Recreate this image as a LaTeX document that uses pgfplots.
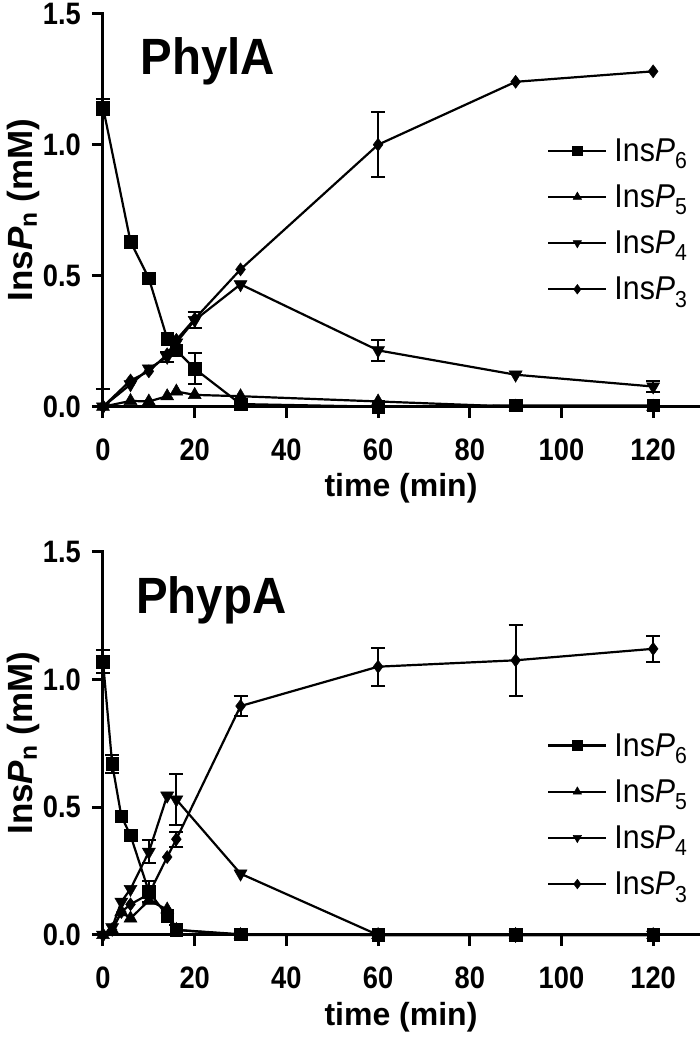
\documentclass[border=0pt]{standalone}
\usepackage{fontspec}
\setmainfont{Liberation Sans}
\newfontfamily\tickfont[FakeStretch=0.88]{Liberation Sans}
\newfontfamily\titlefont[FakeStretch=0.93]{Liberation Sans}
\newfontfamily\legfont[FakeStretch=0.92]{Liberation Sans}
\usepackage{pgfplots}
\pgfplotsset{compat=1.18}
\usepackage{pgfplotstable}

% ---------- PhylA ----------
\pgfplotstableread{
t y
0 1.143
6 0.63
10 0.49
14 0.26
16 0.215
20 0.145
30 0.01
60 0.0
90 0.005
120 0.005
}\lAsix
\pgfplotstableread{
t y
0 0
6 0.022
10 0.02
14 0.04
16 0.058
20 0.045
30 0.04
60 0.02
90 0
120 0
}\lAfive
\pgfplotstableread{
t y
0 0
6 0.085
10 0.145
14 0.19
16 0.245
20 0.33
30 0.467
60 0.215
90 0.122
120 0.077
}\lAfour
\pgfplotstableread{
t y
0 0
6 0.10
10 0.135
14 0.20
16 0.255
20 0.335
30 0.524
60 1.0
90 1.24
120 1.28
}\lAthree
\pgfplotstableread{
t y e
0 1.143 0.03
20 0.145 0.06
14 0.19 0.02
20 0.33 0.03
60 0.215 0.04
120 0.077 0.02
60 1.0 0.125
}\lAerr
\pgfplotstableread{
t y e
0 0 0.066
}\lAerrup

% ---------- PhypA ----------
\pgfplotstableread{
t y
0 1.07
2 0.67
4 0.465
6 0.39
10 0.17
14 0.075
16 0.02
30 0.003
60 0
90 0
120 0
}\pAsix
\pgfplotstableread{
t y
0 0
2 0.02
4 0.09
6 0.065
10 0.135
14 0.10
16 0.02
30 0
60 0
90 0
120 0
}\pAfive
\pgfplotstableread{
t y
0 0
2 0.03
4 0.13
6 0.18
10 0.325
14 0.545
16 0.53
30 0.24
60 0
90 0
120 0
}\pAfour
\pgfplotstableread{
t y
0 0
2 0.02
4 0.09
6 0.12
10 0.16
14 0.305
16 0.375
30 0.896
60 1.05
90 1.075
120 1.12
}\pAthree
\pgfplotstableread{
t y e
0 1.07 0.045
2 0.67 0.035
10 0.17 0.04
10 0.325 0.045
16 0.53 0.1
16 0.375 0.03
30 0.896 0.04
60 1.05 0.075
90 1.075 0.14
120 1.12 0.05
}\pAerr
\pgfplotstableread{
t y e
16 0.02 0.02
}\pAerrup

\pgfplotsset{
  panel/.style={
    scale only axis, width=596pt,
    xmin=0, xmax=130, ymin=0, ymax=1.5,
    axis x line*=bottom, axis y line*=left,
    axis line style={line width=3pt, line cap=rect},
    every tick/.style={line width=3pt, black},
    major tick length=11pt, tick align=outside,
    xtick={0,20,...,120}, ytick={0,0.5,1,1.5},
    /pgf/number format/assume math mode=true,
    ticklabel style={font=\fontsize{31}{31}\tickfont\bfseries, inner sep=0pt},
    x tick label style={anchor=north, yshift=-21pt},
    y tick label style={anchor=east, xshift=-11pt,
      /pgf/number format/fixed, /pgf/number format/fixed zerofill, /pgf/number format/precision=1},
    xlabel={time (min)},
    ylabel={Ins\textit{P}\textsubscript{n} (mM)},
    xlabel style={font=\fontsize{32}{32}\selectfont\bfseries, at={(axis description cs:0.5,0)}, anchor=center, yshift=-82pt},
    ylabel style={font=\fontsize{35}{35}\selectfont\bfseries, at={(axis description cs:-0.134,0.5)}, anchor=center},
    clip=false,
    legend style={draw=none, fill=none, anchor=north west,
      font=\fontsize{33}{33}\legfont,
      row sep=18pt, column sep=5pt},
    legend cell align=left,
    legend image code/.code={\draw[mark repeat=2,mark phase=2,##1,mark size=4.8pt] plot coordinates {(0pt,0pt) (29pt,0pt) (58pt,0pt)};},
  },
  ser/.style={black, line width=2.2pt},
  s6/.style={ser, mark=square*, mark size=6.3pt, mark options={solid, fill=black, line width=0.5pt}},
  s5/.style={ser, mark=triangle*, mark size=7.5pt, mark options={solid, fill=black, line width=0.5pt}},
  s4/.style={ser, mark=triangle*, mark size=7.5pt, mark options={solid, fill=black, line width=0.5pt, rotate=180}},
  s3/.style={ser, mark=diamond*, mark size=6.5pt, mark options={solid, fill=black, line width=0.5pt}},
  eb/.style={forget plot, only marks, mark=none, black,
    error bars/.cd, y dir=both, y explicit,
    error bar style={line width=2pt, black},
    error mark options={rotate=90, mark size=7pt, line width=2pt, black}},
  ebup/.style={forget plot, only marks, mark=none, black,
    error bars/.cd, y dir=plus, y explicit,
    error bar style={line width=2pt, black},
    error mark options={rotate=90, mark size=7pt, line width=2pt, black}},
}

\begin{document}
\begin{tikzpicture}
\useasboundingbox (0,0) rectangle (700pt,1044pt);

\begin{axis}[panel, at={(103pt,637.3pt)}, anchor=south west, height=393pt,
  legend style={at={(0.74,0.693)}}]
  \addplot[s6] table[x=t,y=y] {\lAsix};
  \addlegendentry{Ins\textit{P}\textsubscript{6}}
  \addplot[s5] table[x=t,y=y] {\lAfive};
  \addlegendentry{Ins\textit{P}\textsubscript{5}}
  \addplot[s4] table[x=t,y=y] {\lAfour};
  \addlegendentry{Ins\textit{P}\textsubscript{4}}
  \addplot[s3] table[x=t,y=y] {\lAthree};
  \addlegendentry{Ins\textit{P}\textsubscript{3}}
  \addplot[eb] table[x=t,y=y,y error=e] {\lAerr};
  \addplot[ebup] table[x=t,y=y,y error=e] {\lAerrup};
  \node[anchor=base west, font=\fontsize{51}{51}\titlefont\bfseries] at (rel axis cs:0.057,0.845) {PhylA};
\end{axis}

\begin{axis}[panel, at={(103pt,109pt)}, anchor=south west, height=383.3pt,
  legend style={at={(0.74,0.537)}}]
  \addplot[s6] table[x=t,y=y] {\pAsix};
  \addlegendentry{Ins\textit{P}\textsubscript{6}}
  \addplot[s5] table[x=t,y=y] {\pAfive};
  \addlegendentry{Ins\textit{P}\textsubscript{5}}
  \addplot[s4] table[x=t,y=y] {\pAfour};
  \addlegendentry{Ins\textit{P}\textsubscript{4}}
  \addplot[s3] table[x=t,y=y] {\pAthree};
  \addlegendentry{Ins\textit{P}\textsubscript{3}}
  \addplot[eb] table[x=t,y=y,y error=e] {\pAerr};
  \addplot[ebup] table[x=t,y=y,y error=e] {\pAerrup};
  \node[anchor=base west, font=\fontsize{51}{51}\titlefont\bfseries] at (rel axis cs:0.05,0.84) {PhypA};
\end{axis}
\end{tikzpicture}
\end{document}
